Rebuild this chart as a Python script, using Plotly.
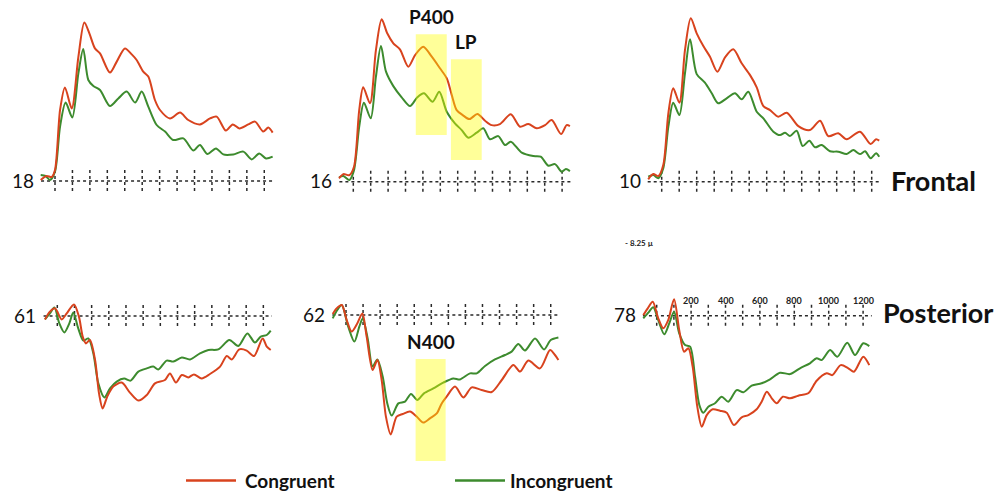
import plotly.graph_objects as go

W, H = 998, 492
RED = "#D8431E"
GREEN = "#3D8B2E"
FONT = "Lato"

# ---------------- data (time in ms, amplitude in microvolts) ----------------
electrodes = ["18", "16", "10", "61", "62", "78"]
region_labels = ["Frontal", "Posterior"]
legend_labels = ["Congruent", "Incongruent"]
axis_ticks_ms = [0, 100, 200, 300, 400, 500, 600, 700, 800, 900, 1000, 1100, 1200]
tick_label_ms = [200, 400, 600, 800, 1000, 1200]
tick_label_txt = ["200", "400", "600", "800", "1000", "1200"]
calibration_txt = "- 8.25 \u00b5"

t18_con = [-82,-48,-19,0,29,57,96,134,168,197,229,258,315,354,401,440,468,506,535,573,602,659,717,764,831,889,927,980,1019,1057,1108,1147,1194,1223,1248]
v18_con = [0.05,0.25,0.2,0.55,3.55,4.68,3.63,6.2,7.92,7.38,6.63,6.38,5.42,5.97,6.63,6.33,6.05,5.47,5.22,4.05,3.55,3.13,3.42,3.05,2.83,3.13,3.22,2.52,2.83,2.63,2.83,2.97,2.47,2.67,2.42]
t18_inc = [-82,-54,-29,0,29,61,99,134,162,191,220,258,315,363,411,459,497,535,583,631,678,736,793,831,873,923,965,1022,1080,1128,1171,1210,1248]
v18_inc = [0.3,0.25,0.05,0.47,2.72,3.92,3.18,5.38,6.6,5.05,4.75,4.55,3.75,4.13,4.47,3.92,4.47,3.72,2.8,2.47,2.05,2.13,1.52,1.8,1.35,1.63,1.33,1.33,1.47,1.08,1.38,1.13,1.22]

t16_con = [-82,-57,-23,4,34,57,96,130,163,195,230,268,316,355,402,451,498,537,566,594,629,667,713,757,795,843,905,958,1006,1054,1102,1140,1194,1226,1245]
v16_con = [0.17,0.38,0.33,0.75,3.58,4.72,3.92,6.58,8.12,7.42,6.92,6.62,5.75,6.33,6.75,6.25,5.67,5.17,4.33,3.58,3.33,3.13,3.38,3.05,2.83,2.88,3.37,2.75,2.88,2.67,2.83,3.08,2.38,2.83,2.78]
t16_inc = [-82,-57,-23,4,34,61,100,130,159,188,230,278,326,368,406,456,494,537,584,623,661,709,747,786,833,872,905,968,1034,1077,1121,1159,1198,1222,1245]
v16_inc = [0.22,0.28,0.08,0.58,2.75,3.95,3.17,5.25,6.78,5.5,4.78,4.22,3.78,4.22,4.42,4.0,4.5,3.5,2.92,2.58,2.2,2.45,2.67,2.12,2.28,1.83,2.0,1.45,1.28,1.25,0.8,0.88,0.5,0.63,0.53]

t10_con = [-77,-48,-19,9,38,66,101,133,166,200,238,276,318,362,409,457,505,543,581,619,666,714,781,847,905,952,1009,1057,1133,1194,1225,1243]
v10_con = [0.12,0.38,0.28,0.83,3.42,4.67,3.95,6.58,8.17,7.42,6.78,6.25,5.5,6.22,6.62,5.92,5.33,4.72,3.78,3.58,3.25,3.45,2.78,2.58,3.05,2.28,2.42,2.12,2.5,1.88,2.12,2.05]
t10_inc = [-77,-48,-19,9,38,66,101,133,162,200,247,286,323,371,419,457,495,543,581,638,676,705,733,771,806,844,876,914,962,1009,1057,1095,1133,1162,1194,1225,1243]
v10_inc = [0.25,0.33,0.17,0.67,2.75,3.95,3.33,5.42,7.12,5.38,4.95,4.42,3.92,4.17,4.42,4.12,4.5,3.5,3.17,2.5,2.33,2.45,2.28,2.55,1.78,2.05,1.72,1.83,1.52,1.5,1.38,1.58,1.38,1.52,1.17,1.42,1.25]

t61_con = [-72,-43,-13,26,55,97,126,148,167,190,220,243,264,291,326,375,423,472,521,569,627,656,691,725,763,796,841,889,948,987,1016,1060,1103,1146,1196,1220,1243]
v61_con = [-0.17,0.22,0.38,-0.17,0.13,0.58,-0.03,-1.03,-1.37,-1.2,-2.2,-3.87,-4.62,-4.03,-3.53,-3.33,-3.83,-4.23,-3.95,-3.37,-3.2,-2.87,-3.33,-2.95,-3.07,-2.92,-3.12,-2.9,-2.53,-2.0,-2.17,-1.67,-1.73,-2.0,-1.12,-1.53,-1.7]
t61_inc = [-72,-43,-17,12,41,70,93,122,152,181,210,239,274,307,346,389,427,472,521,559,588,637,676,725,773,831,880,938,1002,1054,1107,1151,1185,1220,1243]
v61_inc = [-0.17,0.13,0.42,-0.37,-0.82,-0.37,0.17,-0.62,-1.23,-1.12,-1.87,-3.37,-4.07,-3.62,-3.28,-3.13,-3.23,-2.78,-2.62,-2.53,-2.67,-2.23,-2.28,-2.07,-2.17,-1.87,-1.7,-1.67,-1.2,-1.5,-0.87,-1.33,-1.03,-0.95,-0.73]

t62_con = [-78,-55,-25,4,33,66,96,121,156,184,209,234,262,297,332,375,414,453,492,532,561,590,639,688,737,795,854,913,981,1020,1069,1137,1196,1225,1245]
v62_con = [0.05,0.33,0.5,-0.25,-0.83,-0.42,0.08,-1.08,-2.75,-2.25,-3.25,-5.08,-5.97,-5.08,-4.95,-4.83,-5.08,-5.38,-5.17,-4.92,-4.42,-4.08,-3.58,-4.12,-3.62,-3.75,-3.85,-3.25,-2.5,-2.83,-2.28,-2.67,-1.75,-2.0,-2.25]
t62_inc = [-78,-51,-25,13,49,78,98,127,156,184,215,242,268,307,346,381,418,457,512,570,629,668,727,766,815,873,932,971,1010,1049,1108,1161,1200,1245]
v62_inc = [-0.17,0.25,0.5,-0.58,-1.33,-0.58,-0.17,-1.17,-2.58,-2.22,-3.08,-4.42,-5.03,-4.42,-4.33,-3.95,-4.25,-3.92,-3.67,-3.38,-3.17,-3.22,-2.92,-2.92,-2.55,-2.22,-2.0,-1.83,-1.45,-1.78,-1.17,-1.72,-1.25,-1.12]

t78_con = [-78,-52,-23,9,38,67,101,131,159,184,209,236,262,291,326,368,407,449,494,533,581,610,640,669,698,733,775,823,881,930,988,1021,1070,1114,1147,1201,1236]
v78_con = [0.03,0.37,0.7,-0.13,-0.63,-0.22,0.82,-0.72,-1.8,-1.63,-2.55,-4.55,-5.55,-4.97,-4.68,-4.75,-4.85,-5.47,-5.08,-4.97,-4.68,-4.3,-3.8,-4.13,-4.38,-4.05,-4.13,-4.0,-3.88,-3.25,-2.88,-2.97,-2.47,-2.63,-2.8,-2.05,-2.47]
t78_inc = [-78,-49,-20,9,44,73,101,131,165,194,223,248,271,300,339,378,416,465,504,552,610,659,717,775,833,891,930,959,1008,1050,1108,1153,1201,1236]
v78_inc = [-0.13,0.15,0.42,-0.22,-0.93,-0.38,0.2,-0.88,-1.47,-1.55,-3.05,-4.47,-4.85,-4.55,-4.38,-4.05,-4.3,-3.72,-3.83,-3.5,-3.38,-3.18,-2.85,-2.92,-2.63,-2.38,-2.13,-2.22,-1.72,-2.05,-1.35,-1.97,-1.38,-1.52]

# highlighted components: (panel index, label, [t_start, t_end], [v_low, v_high])
windows = [
    (1, "P400", [359, 537], [2.33, 7.37]),
    (1, "LP", [561, 738], [1.08, 6.12]),
    (4, "N400", [408, 584], [-7.3, -2.2]),
]

con_t = [t18_con, t16_con, t10_con, t61_con, t62_con, t78_con]
con_v = [v18_con, v16_con, v10_con, v61_con, v62_con, v78_con]
inc_t = [t18_inc, t16_inc, t10_inc, t61_inc, t62_inc, t78_inc]
inc_v = [v18_inc, v16_inc, v10_inc, v61_inc, v62_inc, v78_inc]

# ---------------- layout geometry (pixels) ----------------
# (x of 0 ms, px per 100 ms, y of baseline, is_top)
geom = [
    (55.0, 17.44, 181.0, True),
    (353.3, 17.40, 181.7, True),
    (661.7, 17.50, 181.7, True),
    (57.3, 17.17, 316.0, False),
    (346.0, 17.06, 315.0, False),
    (656.7, 17.20, 315.7, False),
]
PXUV = 20.0  # pixels per microvolt

fig = go.Figure()
layout_axes = {}
annotations = []
shapes = []

def px(x):
    return x / W

def py(y):
    return 1 - y / H

for i, (x0, sp, y0, top) in enumerate(geom):
    n = i + 1
    xa = "x" if n == 1 else f"x{n}"
    ya = "y" if n == 1 else f"y{n}"
    L, R = x0 - 30, x0 + 12 * sp + 28
    T, B = (y0 - 178, y0 + 22) if top else (y0 - 22, y0 + 150)
    xr = [(L - x0) / sp * 100, (R - x0) / sp * 100]
    yr = [(y0 - B) / PXUV, (y0 - T) / PXUV]
    common = dict(showgrid=False, zeroline=False, showticklabels=False, ticks="",
                  showline=False, fixedrange=True)
    layout_axes["xaxis" if n == 1 else f"xaxis{n}"] = dict(
        domain=[px(L), px(R)], range=xr, anchor=ya, **common)
    layout_axes["yaxis" if n == 1 else f"yaxis{n}"] = dict(
        domain=[py(B), py(T)], range=yr, anchor=xa, **common)

    # yellow windows (translucent, over the lines)
    for (pi, lab, tw, vw) in windows:
        if pi == i:
            shapes.append(dict(type="rect", xref=xa, yref=ya, x0=tw[0], x1=tw[1],
                               y0=vw[0], y1=vw[1], fillcolor="#FFFF00", opacity=0.4,
                               line=dict(width=0), layer="above"))

    # dotted baseline
    fig.add_trace(go.Scatter(x=[-80, 1250], y=[0, 0], xaxis=xa, yaxis=ya, mode="lines",
                             line=dict(color="#2a2a2a", width=1.6, dash="dot"),
                             hoverinfo="skip", showlegend=False))
    # dotted tick marks
    tx, ty = [], []
    for t in axis_ticks_ms:
        tx += [t, t, None]
        ty += [0.55, -0.55, None]
    fig.add_trace(go.Scatter(x=tx, y=ty, xaxis=xa, yaxis=ya, mode="lines",
                             line=dict(color="#2a2a2a", width=1.5, dash="dot"),
                             hoverinfo="skip", showlegend=False))
    # waveforms
    fig.add_trace(go.Scatter(x=inc_t[i], y=inc_v[i], xaxis=xa, yaxis=ya, mode="lines",
                             line=dict(color=GREEN, width=2, shape="spline", smoothing=0.8),
                             name=legend_labels[1], showlegend=False))
    fig.add_trace(go.Scatter(x=con_t[i], y=con_v[i], xaxis=xa, yaxis=ya, mode="lines",
                             line=dict(color=RED, width=2, shape="spline", smoothing=0.8),
                             name=legend_labels[0], showlegend=False))

    # electrode number
    annotations.append(dict(text=electrodes[i], xref="paper", yref="paper",
                            x=px(x0 - 19), y=py(y0 - 1), xanchor="right", yanchor="middle",
                            showarrow=False, font=dict(family=FONT, size=19, color="#111")))

    # component labels
    for (pi, lab, tw, vw) in windows:
        if pi == i:
            annotations.append(dict(text=f"<b>{lab}</b>", xref=xa, yref=ya,
                                    x=(tw[0] + tw[1]) / 2, y=vw[1], yshift=4,
                                    xanchor="center", yanchor="bottom", showarrow=False,
                                    font=dict(family=FONT, size=19, color="#111")))

# time tick labels on last panel
for t, s in zip(tick_label_ms, tick_label_txt):
    annotations.append(dict(text=f"<b>{s}</b>", xref="x6", yref="y6", x=t, y=0.75,
                            xanchor="center", yanchor="middle", showarrow=False,
                            font=dict(family=FONT, size=9, color="#222")))

# calibration text
annotations.append(dict(text=f"<b>{calibration_txt}</b>", xref="paper", yref="paper",
                        x=px(623), y=py(243), xanchor="left", yanchor="middle",
                        showarrow=False, font=dict(family=FONT, size=8, color="#222")))

# region labels
annotations.append(dict(text=f"<b>{region_labels[0]}</b>", xref="paper", yref="paper",
                        x=px(889), y=py(180), xanchor="left", yanchor="middle",
                        showarrow=False, font=dict(family=FONT, size=27, color="#111")))
annotations.append(dict(text=f"<b>{region_labels[1]}</b>", xref="paper", yref="paper",
                        x=px(881), y=py(312), xanchor="left", yanchor="middle",
                        showarrow=False, font=dict(family=FONT, size=27, color="#111")))

# legend
for (lx0, lx1, tx0, col, lab) in [(186, 236, 243, RED, legend_labels[0]),
                                  (455, 505, 508, GREEN, legend_labels[1])]:
    shapes.append(dict(type="line", xref="paper", yref="paper", x0=px(lx0), x1=px(lx1),
                       y0=py(480.5), y1=py(480.5), line=dict(color=col, width=2.5)))
    annotations.append(dict(text=f"<b>{lab}</b>", xref="paper", yref="paper",
                            x=px(tx0), y=py(480), xanchor="left", yanchor="middle",
                            showarrow=False, font=dict(family=FONT, size=19, color="#111")))

fig.update_layout(width=W, height=H, margin=dict(l=0, r=0, t=0, b=0),
                  paper_bgcolor="white", plot_bgcolor="rgba(0,0,0,0)",
                  annotations=annotations, shapes=shapes, showlegend=False,
                  **layout_axes)

fig.write_html("out.html", config={"displayModeBar": False},
               post_script="document.body.style.margin='0';document.body.style.overflow='hidden';")
